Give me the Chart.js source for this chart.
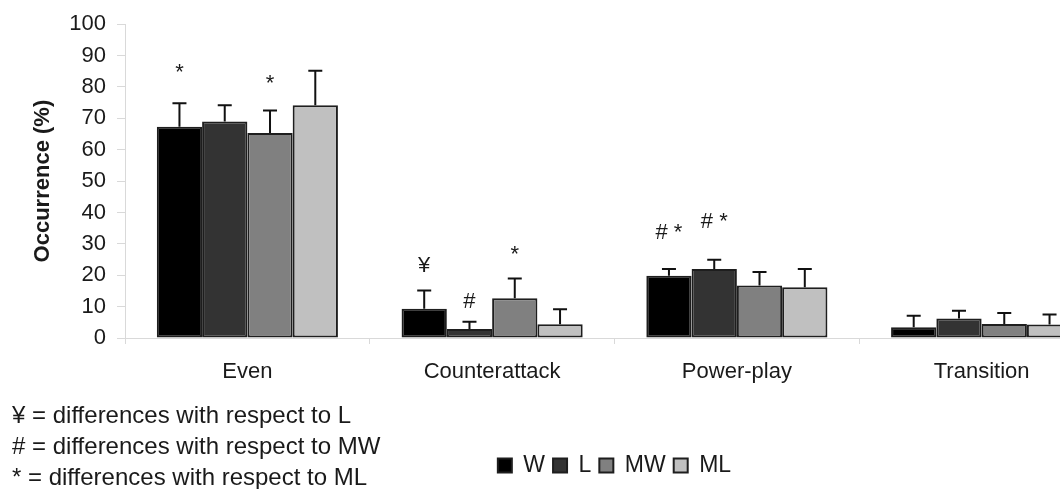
<!DOCTYPE html>
<html>
<head>
<meta charset="utf-8">
<script src="https://cdn.jsdelivr.net/npm/chart.js@4"></script>
<style>
  html, body { margin: 0; padding: 0; background: #fff; }
  #wrap { width: 1060px; height: 489px; overflow: hidden; }
  canvas { display: block; }
</style>
</head>
<body>
<div id="wrap"><canvas id="chart" width="1110" height="489"></canvas></div>
<script>
const categories = ['Even', 'Counterattack', 'Power-play', 'Transition'];
const groups = ['W', 'L', 'MW', 'ML'];
const groupColors = ['#000000', '#333333', '#808080', '#c0c0c0'];

// mean occurrence (%) per situation
const meanW = [67.3, 9.3, 19.8, 3.4];
const meanL = [69.0, 2.9, 22.0, 6.2];
const meanMW = [65.3, 12.7, 16.7, 4.5];
const meanML = [74.2, 4.4, 16.2, 4.3];

// standard deviations (upper whisker only)
const sdW = [7.5, 5.8, 2.2, 3.7];
const sdL = [5.2, 2.3, 2.9, 2.5];
const sdMW = [7.2, 6.3, 4.3, 3.5];
const sdML = [11.0, 4.8, 5.8, 3.2];

// significance marks: which bar, symbol, and the value their baseline sits at
const markGroup = [0, 2, 0, 1, 2, 0, 1];
const markCategory = [0, 0, 1, 1, 1, 2, 2];
const markText = ['*', '*', '¥', '#', '*', '# *', '# *'];
const markLevel = [82.5, 79.0, 21.0, 9.5, 24.6, 31.7, 35.0];

const footnotes = [
  '¥ = differences with respect to L',
  '# = differences with respect to MW',
  '* = differences with respect to ML'
];

const FONT = '"Liberation Sans", Arial, Helvetica, sans-serif';
Chart.defaults.font.family = FONT;
Chart.defaults.color = '#1a1a1a';

const means = [meanW, meanL, meanMW, meanML];
const sds = [sdW, sdL, sdMW, sdML];

const errorBars = {
  id: 'errorBars',
  afterDatasetsDraw(chart) {
    const { ctx } = chart;
    const y = chart.scales.y;
    ctx.save();
    ctx.strokeStyle = '#111';
    ctx.lineWidth = 2;
    chart.data.datasets.forEach((ds, i) => {
      chart.getDatasetMeta(i).data.forEach((bar, j) => {
        const top = y.getPixelForValue(ds.data[j] + ds.sd[j]);
        ctx.beginPath();
        ctx.moveTo(bar.x, bar.y);
        ctx.lineTo(bar.x, top);
        ctx.moveTo(bar.x - 7, top);
        ctx.lineTo(bar.x + 7, top);
        ctx.stroke();
      });
    });

    ctx.fillStyle = '#1a1a1a';
    ctx.font = '22px ' + FONT;
    ctx.textAlign = 'center';
    ctx.textBaseline = 'alphabetic';
    markText.forEach((t, k) => {
      const bar = chart.getDatasetMeta(markGroup[k]).data[markCategory[k]];
      ctx.fillText(t, bar.x, y.getPixelForValue(markLevel[k]));
    });
    ctx.restore();
  },
  afterDraw(chart) {
    const { ctx } = chart;
    ctx.save();
    ctx.fillStyle = '#1a1a1a';
    ctx.font = '24px ' + FONT;
    ctx.textAlign = 'left';
    ctx.textBaseline = 'alphabetic';
    footnotes.forEach((t, k) => ctx.fillText(t, 12, 423 + k * 31));
    ctx.restore();
  }
};

new Chart(document.getElementById('chart'), {
  type: 'bar',
  data: {
    labels: categories,
    datasets: groups.map((g, i) => ({
      label: g,
      data: means[i],
      sd: sds[i],
      backgroundColor: groupColors[i],
      borderColor: '#1e1e1e',
      borderWidth: 2,
      borderSkipped: false,
      categoryPercentage: 0.74,
      barPercentage: 1.0
    }))
  },
  options: {
    responsive: false,
    animation: false,
    devicePixelRatio: 1,
    layout: { padding: { top: 23, left: 0, right: 6, bottom: 2 } },
    plugins: {
      legend: {
        position: 'bottom',
        fullSize: false,
        labels: {
          boxWidth: 14,
          boxHeight: 14,
          padding: 8,
          color: '#1a1a1a',
          font: { size: 23 }
        }
      },
      tooltip: { enabled: false }
    },
    scales: {
      x: {
        grid: { drawOnChartArea: false, tickLength: 6, color: '#d9d9d9' },
        border: { color: '#d9d9d9' },
        ticks: { font: { size: 22 }, padding: 15, color: '#1a1a1a' },
        afterFit(scale) { scale.height = 108; }
      },
      y: {
        min: 0,
        max: 100,
        grid: { drawOnChartArea: false, tickLength: 8, color: '#d9d9d9' },
        border: { color: '#d9d9d9' },
        ticks: { stepSize: 10, font: { size: 22 }, padding: 11, color: '#1a1a1a' },
        title: {
          display: true,
          text: 'Occurrence (%)',
          font: { size: 22, weight: 'bold' },
          color: '#1a1a1a',
          padding: { top: 30, bottom: 0 }
        },
        afterFit(scale) { scale.width = 125; }
      }
    }
  },
  plugins: [errorBars]
});
</script>
</body>
</html>
